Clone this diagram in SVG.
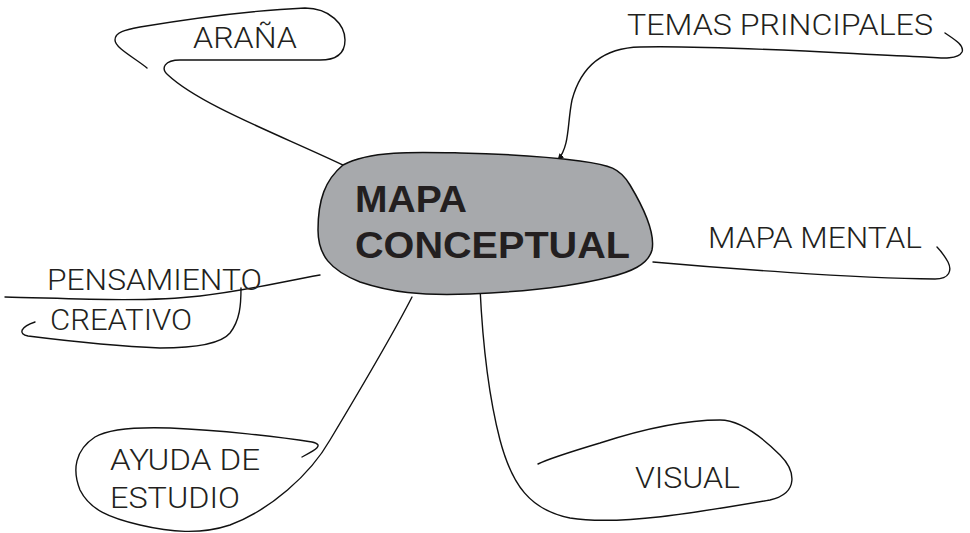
<svg xmlns="http://www.w3.org/2000/svg" width="970" height="533" viewBox="0 0 970 533">
<style>
.lbl{font-family:Roboto,"Liberation Sans",Arial,sans-serif;font-weight:300;font-size:29px;fill:#231f20;}
.ttl{font-family:"Liberation Sans",Arial,sans-serif;font-size:37px;font-weight:bold;fill:#231f20;}
.con{fill:none;stroke:#111;stroke-width:1.4;stroke-linecap:round;stroke-linejoin:round;}
</style>
<defs>
<marker id="ah" viewBox="0 0 8 8" refX="7" refY="4" markerWidth="7" markerHeight="7" orient="auto" markerUnits="userSpaceOnUse">
<path d="M0,0.5 L8,4 L0,7.5 Z" fill="#111"/>
</marker>
</defs>
<rect width="970" height="533" fill="#fff"/>
<g id="connectors">
<path class="con" d="M147 68 C135 58,115 48,115 40 C115 32,125 30,140 27 C200 17,260 10,305 8 C330 8,345 25,345 40 C345 55,335 60,320 60 L180 60 C165 60,160 68,168 75 C200 105,280 135,345 166"/>
<path class="con" marker-end="url(#ah)" d="M945 33 C952 38,965 45,962 52 C958 60,940 58,925 57 C850 54,720 45,640 47 C600 48,580 70,572 100 C567 125,570 145,558 160"/>
<path class="con" d="M653 262 C720 268,850 278,935 279 C950 279,952 270,948 262 C944 255,940 250,937 247"/>
<path class="con" d="M320 275 C280 282,250 290,200 296 C140 303,60 298,5 297"/>
<path class="con" d="M241 288 C241 305,240 320,230 333 C220 345,190 348,160 348 C110 346,60 340,28 336 C18 334,20 327,35 322"/>
<path class="con" d="M412 297 C390 340,360 390,330 440 C310 475,270 510,230 525 C200 535,170 532,140 525 C110 518,90 510,80 490 C72 470,75 450,95 437 C110 428,140 427,170 428 C220 430,280 437,312 442 C325 445,315 450,302 457"/>
<path class="con" d="M480 288 C482 330,487 390,500 440 C512 485,530 510,570 518 C620 526,700 512,770 500 C800 493,795 470,780 455 C760 435,740 420,720 420 C680 420,640 430,600 443 C570 452,550 458,538 464"/>
</g>
<g id="center">
<path d="M343 165 C370 150,420 152,460 153 C510 154,550 157,580 161 C610 165,620 168,630 185 C645 210,655 235,652 250 C648 265,630 272,610 277 C570 287,520 292,470 294 C420 296,390 292,360 282 C330 270,318 255,318 230 C318 200,325 180,343 165 Z" fill="#a7a9ac" stroke="#111" stroke-width="1.5"/>
<text class="ttl" x="355" y="212" textLength="112" lengthAdjust="spacingAndGlyphs">MAPA</text>
<text class="ttl" x="355" y="258" textLength="275" lengthAdjust="spacingAndGlyphs">CONCEPTUAL</text>
</g>
<g id="arana"><text class="lbl" x="193" y="48" textLength="104" lengthAdjust="spacingAndGlyphs">ARAÑA</text></g>
<g id="temas"><text class="lbl" x="627" y="35" textLength="306" lengthAdjust="spacingAndGlyphs">TEMAS PRINCIPALES</text></g>
<g id="mapamental"><text class="lbl" x="708" y="248" textLength="214" lengthAdjust="spacingAndGlyphs">MAPA MENTAL</text></g>
<g id="pensamiento">
<text class="lbl" x="47" y="290" textLength="215" lengthAdjust="spacingAndGlyphs">PENSAMIENTO</text>
<text class="lbl" x="50" y="330" textLength="142" lengthAdjust="spacingAndGlyphs">CREATIVO</text>
</g>
<g id="ayuda">
<text class="lbl" x="110" y="470" textLength="150" lengthAdjust="spacingAndGlyphs">AYUDA DE</text>
<text class="lbl" x="110" y="508" textLength="130" lengthAdjust="spacingAndGlyphs">ESTUDIO</text>
</g>
<g id="visual"><text class="lbl" x="635" y="488" textLength="105" lengthAdjust="spacingAndGlyphs">VISUAL</text></g>
</svg>
